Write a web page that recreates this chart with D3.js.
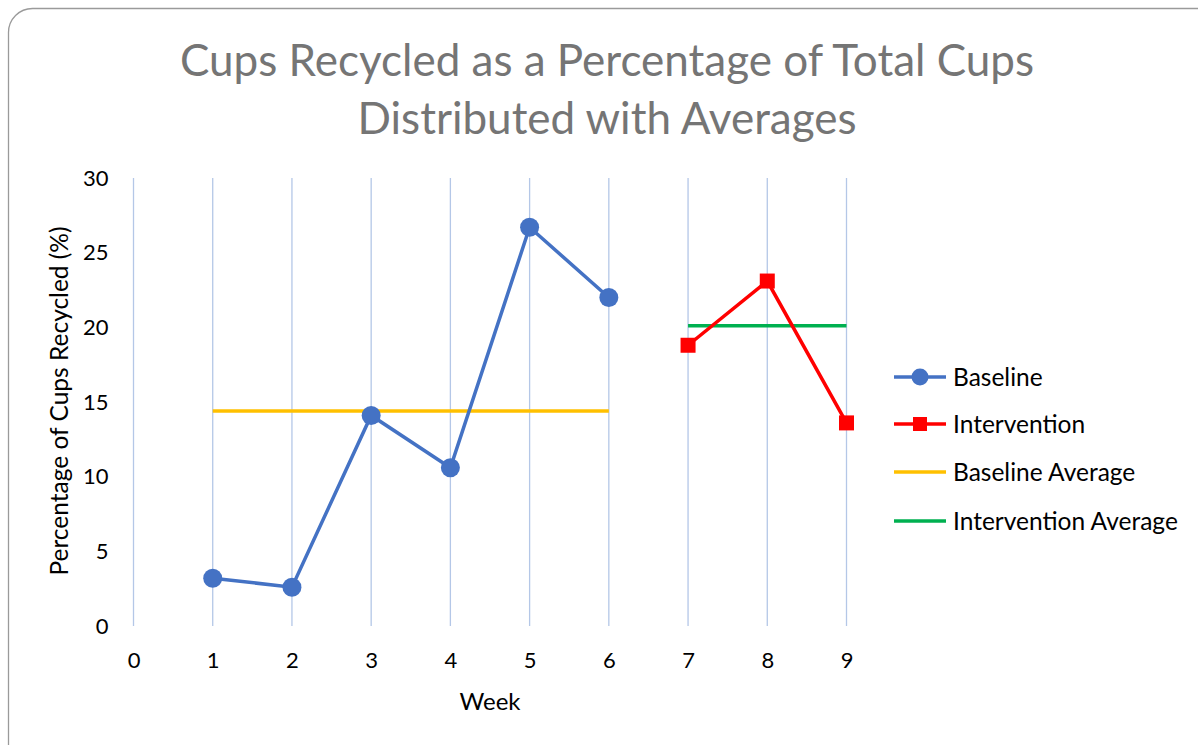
<!DOCTYPE html>
<html><head><meta charset="utf-8">
<script src="https://cdn.jsdelivr.net/npm/d3@7"></script>
<style>body{margin:0;background:#fff;}svg{display:block;}</style>
</head><body>
<svg id="chart" width="1198" height="745"></svg>
<script>
const titleLines = ["Cups Recycled as a Percentage of Total Cups", "Distributed with Averages"];
const baselineWeeks = [1, 2, 3, 4, 5, 6];
const baselineValues = [3.2, 2.6, 14.1, 10.6, 26.7, 22.0];
const interventionWeeks = [7, 8, 9];
const interventionValues = [18.8, 23.1, 13.6];
const baselineAvgWeeks = [1, 6];
const baselineAvgValues = [14.4, 14.4];
const interventionAvgWeeks = [7, 9];
const interventionAvgValues = [20.1, 20.1];
const xTicks = [0, 1, 2, 3, 4, 5, 6, 7, 8, 9];
const yTicks = [0, 5, 10, 15, 20, 25, 30];
const legendLabels = ["Baseline", "Intervention", "Baseline Average", "Intervention Average"];

const svg = d3.select("#chart");
const font = "Lato, 'Open Sans', sans-serif";
svg.append("rect").attr("x", 8.5).attr("y", 8.5).attr("width", 1220).attr("height", 770)
  .attr("rx", 24).attr("fill", "#fff").attr("stroke", "#9a9a9a").attr("stroke-width", 1.3);

const x = d3.scaleLinear().domain([0, 9]).range([133.5, 846.5]);
const y = d3.scaleLinear().domain([0, 30]).range([626, 178]);

// title
svg.append("g").selectAll("text").data(titleLines).join("text")
  .attr("x", 607).attr("y", (d, i) => 76 + i * 58).attr("text-anchor", "middle")
  .attr("font-family", font).attr("font-size", 44).attr("fill", "#757575").text(d => d);

// vertical gridlines
svg.append("g").selectAll("line").data(xTicks).join("line")
  .attr("x1", d => x(d)).attr("x2", d => x(d)).attr("y1", y(30)).attr("y2", y(0))
  .attr("stroke", "#b4c7e7").attr("stroke-width", 1.3);

// axes (labels only)
const xAxis = svg.append("g").attr("transform", `translate(0,${y(0)})`)
  .call(d3.axisBottom(x).tickValues(xTicks).tickSize(0).tickPadding(26).tickFormat(d3.format("d")));
xAxis.select(".domain").remove();
xAxis.selectAll("text").attr("font-family", font).attr("font-size", 22).attr("fill", "#000");

const yAxis = svg.append("g").attr("transform", `translate(${x(0)},0)`)
  .call(d3.axisLeft(y).tickValues(yTicks).tickSize(0).tickPadding(25));
yAxis.select(".domain").remove();
yAxis.selectAll("text").attr("font-family", font).attr("font-size", 22).attr("fill", "#000");

svg.append("text").attr("x", 490).attr("y", 710).attr("text-anchor", "middle")
  .attr("font-family", font).attr("font-size", 24).attr("fill", "#000").text("Week");
svg.append("text").attr("transform", "translate(68,401) rotate(-90)").attr("text-anchor", "middle")
  .attr("font-family", font).attr("font-size", 24.5).attr("fill", "#000").text("Percentage of Cups Recycled (%)");

const line = d3.line().x(d => x(d[0])).y(d => y(d[1]));
const zip = (a, b) => a.map((v, i) => [v, b[i]]);

svg.append("path").datum(zip(baselineAvgWeeks, baselineAvgValues)).attr("d", line)
  .attr("fill", "none").attr("stroke", "#ffc000").attr("stroke-width", 3.5);
svg.append("path").datum(zip(interventionAvgWeeks, interventionAvgValues)).attr("d", line)
  .attr("fill", "none").attr("stroke", "#00b050").attr("stroke-width", 3.5);

svg.append("path").datum(zip(baselineWeeks, baselineValues)).attr("d", line)
  .attr("fill", "none").attr("stroke", "#4472c4").attr("stroke-width", 3.5);
svg.append("g").selectAll("circle").data(zip(baselineWeeks, baselineValues)).join("circle")
  .attr("cx", d => x(d[0])).attr("cy", d => y(d[1])).attr("r", 9.5).attr("fill", "#4472c4");

svg.append("path").datum(zip(interventionWeeks, interventionValues)).attr("d", line)
  .attr("fill", "none").attr("stroke", "#ff0000").attr("stroke-width", 3.5);
svg.append("g").selectAll("rect").data(zip(interventionWeeks, interventionValues)).join("rect")
  .attr("x", d => x(d[0]) - 7.5).attr("y", d => y(d[1]) - 7.5).attr("width", 15).attr("height", 15)
  .attr("fill", "#ff0000");

// legend
const legColors = ["#4472c4", "#ff0000", "#ffc000", "#00b050"];
const legY = [377, 424, 472, 521];
const leg = svg.append("g");
legendLabels.forEach((lab, i) => {
  leg.append("line").attr("x1", 894).attr("x2", 946).attr("y1", legY[i]).attr("y2", legY[i])
    .attr("stroke", legColors[i]).attr("stroke-width", 3.5);
  if (i === 0) leg.append("circle").attr("cx", 920).attr("cy", legY[i]).attr("r", 8.5).attr("fill", legColors[i]);
  if (i === 1) leg.append("rect").attr("x", 913).attr("y", legY[i] - 7).attr("width", 14).attr("height", 14).attr("fill", legColors[i]);
  leg.append("text").attr("x", 953).attr("y", legY[i]).attr("dy", "0.35em")
    .attr("font-family", font).attr("font-size", 24.5).attr("fill", "#000").text(lab);
});
</script>
</body></html>
